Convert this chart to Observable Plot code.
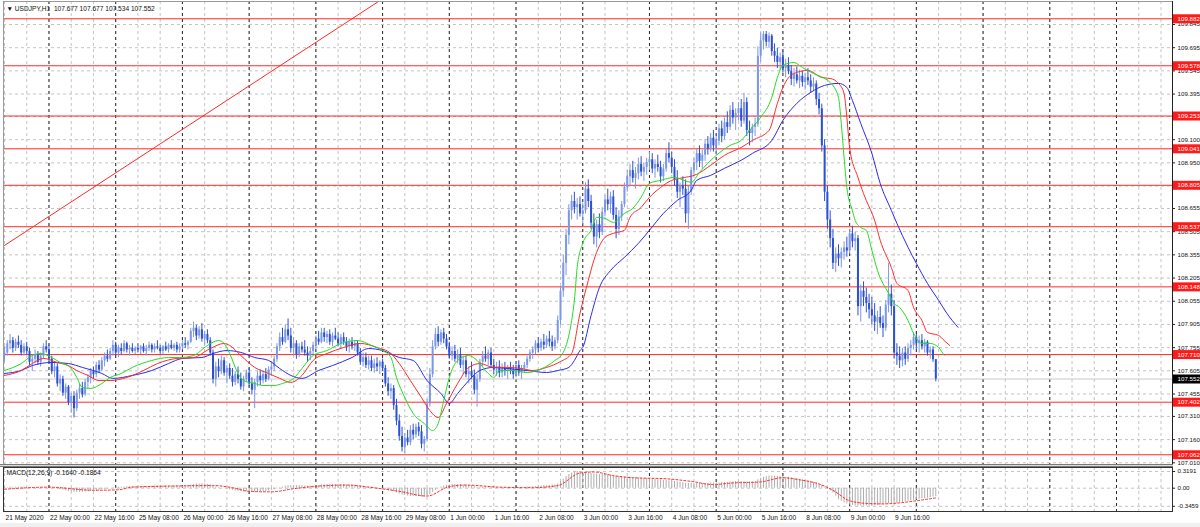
<!DOCTYPE html>
<html><head><meta charset="utf-8">
<script src="https://cdn.jsdelivr.net/npm/d3@7"></script>
<script src="https://cdn.jsdelivr.net/npm/@observablehq/plot@0.6"></script>
<style>
html,body{margin:0;padding:0;background:#fff;}
#wrap{position:relative;width:1200px;height:527px;overflow:hidden;background:#fff;}
#main{position:absolute;left:0;top:0;}
#macd{position:absolute;left:0;top:467px;}
#sep{position:absolute;left:0;top:464px;width:1173px;height:1px;border-top:1px solid #7a7a7a;border-bottom:1px solid #7a7a7a;background:#dcdcdc;}
#foot{position:absolute;left:0;top:523px;width:1200px;height:4px;background:#f0f0f0;}
</style></head>
<body><div id="wrap"><div id="foot"></div><div id="main"></div><div id="macd"></div><div id="sep"></div></div>
<script>
// ---------- data ----------
const titleText = "▼ USDJPY,H1  107.677 107.677 107.534 107.552";
const macdTitle = "MACD(12,26,9) -0.1640 -0.1864";

const timeLabels = ["21 May 2020","22 May 00:00","22 May 16:00","25 May 08:00","26 May 00:00","26 May 16:00","27 May 08:00","28 May 00:00","28 May 16:00","29 May 08:00","1 Jun 00:00","1 Jun 16:00","2 Jun 08:00","3 Jun 00:00","3 Jun 16:00","4 Jun 08:00","5 Jun 00:00","5 Jun 16:00","8 Jun 08:00","9 Jun 00:00","9 Jun 16:00"];
const timeLabelIdx = [0,16,32,48,64,80,96,112,128,144,160,176,192,208,224,240,256,272,288,304,320];
const dayIdx = [16,40,64,88,112,136,160,184,208,232,256,280,304,328,352,376,400];

const priceTicks = [107.010,107.160,107.310,107.455,107.605,107.755,107.905,108.055,108.205,108.355,108.505,108.655,108.800,108.950,109.100,109.250,109.395,109.545,109.695,109.845];
const levels = [109.882,109.578,109.253,109.041,108.805,108.537,108.148,107.710,107.402,107.062];
const bid = 107.552;

const trendIdx = [0, 140];
const trendPrice = [108.416, 110.058];

const close = [
107.72,107.78,107.80,107.75,107.79,107.77,107.72,107.76,107.73,107.66,
107.68,107.71,107.66,107.70,107.76,107.74,107.68,107.60,107.63,107.52,
107.55,107.46,107.50,107.40,107.44,107.36,107.46,107.49,107.45,107.53,
107.56,107.60,107.58,107.64,107.61,107.67,107.70,107.68,107.73,107.77,
107.72,107.75,107.73,107.78,107.74,107.75,107.73,107.75,107.74,107.76,
107.73,107.75,107.77,107.74,107.76,107.75,107.73,107.76,107.74,107.77,
107.75,107.77,107.74,107.76,107.78,107.77,107.79,107.86,107.88,107.83,
107.87,107.81,107.84,107.80,107.72,107.55,107.63,107.60,107.67,107.59,
107.62,107.57,107.53,107.58,107.55,107.50,107.55,107.59,107.52,107.48,
107.53,107.57,107.54,107.58,107.55,107.61,107.63,107.68,107.76,107.82,
107.79,107.87,107.83,107.75,107.78,107.71,107.76,107.74,107.72,107.70,
107.73,107.77,107.81,107.79,107.85,107.82,107.84,107.79,107.83,107.81,
107.78,107.82,107.79,107.76,107.79,107.76,107.78,107.72,107.66,107.69,
107.64,107.67,107.62,107.65,107.63,107.66,107.62,107.52,107.47,107.49,
107.38,107.28,107.18,107.11,107.17,107.14,107.22,107.19,107.24,107.21,
107.13,107.16,107.39,107.58,107.76,107.84,107.79,107.85,107.81,107.76,
107.70,107.73,107.68,107.71,107.64,107.67,107.58,107.60,107.57,107.48,
107.55,107.66,107.70,107.68,107.72,107.64,107.61,107.63,107.59,107.62,
107.60,107.62,107.61,107.58,107.64,107.59,107.62,107.64,107.68,107.72,
107.74,107.78,107.75,107.79,107.77,107.81,107.79,107.76,107.80,107.93,
108.12,108.30,108.48,108.64,108.70,108.66,108.68,108.62,108.64,108.78,
108.70,108.56,108.47,108.55,108.50,108.63,108.71,108.68,108.73,108.61,
108.52,108.60,108.68,108.79,108.86,108.90,108.85,108.88,108.94,108.89,
108.92,108.95,108.97,108.91,108.94,108.92,108.86,108.91,109.01,108.98,
108.92,108.84,108.76,108.80,108.78,108.62,108.76,108.90,108.95,109.01,
108.96,109.00,109.07,109.04,109.11,109.06,109.09,109.17,109.12,109.21,
109.18,109.29,109.24,109.27,109.30,109.22,109.34,109.16,109.14,109.18,
109.20,109.64,109.74,109.78,109.73,109.77,109.67,109.64,109.60,109.63,
109.56,109.58,109.54,109.49,109.52,109.48,109.51,109.47,109.50,109.48,
109.44,109.46,109.36,109.30,109.06,108.76,108.58,108.46,108.30,108.36,
108.33,108.37,108.40,108.38,108.49,108.44,108.46,108.02,108.12,108.08,
108.04,108.00,107.96,107.92,107.95,107.91,107.88,108.03,108.10,108.02,
107.72,107.70,107.67,107.72,107.68,107.75,107.77,107.82,107.78,107.80,
107.76,107.79,107.72,107.74,107.677,107.552];

const open = [
107.70,107.72,107.78,107.80,107.75,107.79,107.77,107.72,107.76,107.73,
107.66,107.68,107.71,107.66,107.70,107.76,107.74,107.68,107.60,107.63,
107.52,107.55,107.46,107.50,107.40,107.44,107.36,107.46,107.49,107.45,
107.53,107.56,107.60,107.58,107.64,107.61,107.67,107.70,107.68,107.73,
107.77,107.72,107.75,107.73,107.78,107.74,107.75,107.73,107.75,107.74,
107.76,107.73,107.75,107.77,107.74,107.76,107.75,107.73,107.76,107.74,
107.77,107.75,107.77,107.74,107.76,107.78,107.77,107.79,107.86,107.88,
107.83,107.87,107.81,107.84,107.80,107.72,107.55,107.63,107.60,107.67,
107.59,107.62,107.57,107.53,107.58,107.55,107.50,107.55,107.59,107.52,
107.48,107.53,107.57,107.54,107.58,107.55,107.61,107.63,107.68,107.76,
107.82,107.79,107.87,107.83,107.75,107.78,107.71,107.76,107.74,107.72,
107.70,107.73,107.77,107.81,107.79,107.85,107.82,107.84,107.79,107.83,
107.81,107.78,107.82,107.79,107.76,107.79,107.76,107.78,107.72,107.66,
107.69,107.64,107.67,107.62,107.65,107.63,107.66,107.62,107.52,107.47,
107.49,107.38,107.28,107.18,107.11,107.17,107.14,107.22,107.19,107.24,
107.21,107.13,107.16,107.39,107.58,107.76,107.84,107.79,107.85,107.81,
107.76,107.70,107.73,107.68,107.71,107.64,107.67,107.58,107.60,107.57,
107.48,107.55,107.66,107.70,107.68,107.72,107.64,107.61,107.63,107.59,
107.62,107.60,107.62,107.61,107.58,107.64,107.59,107.62,107.64,107.68,
107.72,107.74,107.78,107.75,107.79,107.77,107.81,107.79,107.76,107.80,
107.93,108.12,108.30,108.48,108.64,108.70,108.66,108.68,108.62,108.64,
108.78,108.70,108.56,108.47,108.55,108.50,108.63,108.71,108.68,108.73,
108.61,108.52,108.60,108.68,108.79,108.86,108.90,108.85,108.88,108.94,
108.89,108.92,108.95,108.97,108.91,108.94,108.92,108.86,108.91,109.01,
108.98,108.92,108.84,108.76,108.80,108.78,108.62,108.76,108.90,108.95,
109.01,108.96,109.00,109.07,109.04,109.11,109.06,109.09,109.17,109.12,
109.21,109.18,109.29,109.24,109.27,109.30,109.22,109.34,109.16,109.14,
109.18,109.20,109.64,109.74,109.78,109.73,109.77,109.67,109.64,109.60,
109.63,109.56,109.58,109.54,109.49,109.52,109.48,109.51,109.47,109.50,
109.48,109.44,109.46,109.36,109.30,109.06,108.76,108.58,108.46,108.30,
108.36,108.33,108.37,108.40,108.38,108.49,108.44,108.46,108.02,108.12,
108.08,108.04,108.00,107.96,107.92,107.95,107.91,107.88,108.03,108.10,
108.02,107.72,107.70,107.67,107.72,107.68,107.75,107.77,107.82,107.78,
107.80,107.76,107.79,107.72,107.74,107.677];

const high = [
107.76,107.80,107.84,107.82,107.81,107.83,107.80,107.78,107.79,107.75,
107.70,107.74,107.73,107.72,107.78,107.80,107.77,107.70,107.66,107.65,
107.58,107.57,107.52,107.51,107.46,107.47,107.48,107.52,107.53,107.55,
107.58,107.62,107.63,107.66,107.67,107.69,107.72,107.74,107.75,107.80,
107.79,107.77,107.78,107.80,107.79,107.77,107.78,107.76,107.78,107.77,
107.78,107.77,107.79,107.78,107.78,107.80,107.77,107.77,107.79,107.78,
107.80,107.78,107.79,107.78,107.80,107.82,107.80,107.88,107.92,107.90,
107.89,107.91,107.86,107.87,107.82,107.74,107.66,107.68,107.70,107.69,
107.64,107.65,107.62,107.60,107.63,107.59,107.57,107.61,107.62,107.56,
107.55,107.60,107.61,107.60,107.62,107.63,107.66,107.70,107.78,107.85,
107.88,107.90,107.94,107.88,107.82,107.80,107.78,107.79,107.80,107.76,
107.75,107.79,107.83,107.86,107.88,107.88,107.86,107.87,107.85,107.88,
107.85,107.84,107.85,107.82,107.81,107.82,107.80,107.80,107.75,107.72,
107.72,107.70,107.70,107.68,107.69,107.67,107.68,107.64,107.56,107.52,
107.51,107.42,107.32,107.24,107.20,107.22,107.25,107.26,107.26,107.27,
107.25,107.18,107.42,107.62,107.80,107.88,107.89,107.87,107.88,107.84,
107.79,107.76,107.77,107.74,107.75,107.70,107.70,107.63,107.66,107.61,
107.58,107.68,107.73,107.76,107.74,107.75,107.68,107.66,107.67,107.65,
107.66,107.64,107.66,107.64,107.66,107.67,107.64,107.66,107.70,107.74,
107.76,107.80,107.82,107.81,107.84,107.83,107.86,107.83,107.82,107.96,
108.15,108.35,108.52,108.68,108.74,108.76,108.72,108.73,108.69,108.82,
108.84,108.74,108.62,108.58,108.62,108.66,108.74,108.78,108.76,108.77,
108.66,108.64,108.70,108.82,108.90,108.94,108.96,108.92,108.98,108.99,
108.95,108.98,109.02,109.01,108.97,109.00,108.96,108.94,109.04,109.08,
109.02,108.97,108.90,108.82,108.86,108.84,108.80,108.92,108.98,109.04,
109.06,109.03,109.10,109.12,109.14,109.16,109.12,109.20,109.22,109.24,
109.28,109.32,109.34,109.30,109.34,109.36,109.40,109.37,109.22,109.20,
109.24,109.70,109.79,109.80,109.80,109.79,109.78,109.72,109.69,109.66,
109.67,109.62,109.63,109.58,109.56,109.57,109.55,109.54,109.53,109.56,
109.52,109.50,109.48,109.40,109.33,109.10,108.80,108.64,108.52,108.40,
108.42,108.40,108.44,108.47,108.52,108.54,108.50,108.48,108.16,108.18,
108.14,108.10,108.08,108.04,107.99,108.02,107.96,108.06,108.30,108.16,
108.06,107.78,107.76,107.75,107.76,107.78,107.80,107.85,107.84,107.83,
107.84,107.81,107.80,107.76,107.76,107.677];

const low = [
107.66,107.70,107.74,107.72,107.73,107.75,107.70,107.70,107.71,107.64,
107.60,107.65,107.64,107.63,107.68,107.72,107.66,107.58,107.56,107.50,
107.47,107.44,107.42,107.38,107.33,107.30,107.34,107.42,107.43,107.44,
107.49,107.52,107.55,107.56,107.59,107.60,107.63,107.66,107.67,107.70,
107.70,107.69,107.71,107.72,107.72,107.70,107.72,107.71,107.72,107.71,
107.72,107.70,107.73,107.72,107.72,107.74,107.71,107.71,107.73,107.72,
107.74,107.73,107.72,107.72,107.74,107.75,107.74,107.78,107.82,107.80,
107.81,107.79,107.77,107.78,107.70,107.52,107.50,107.56,107.58,107.57,
107.52,107.55,107.50,107.51,107.52,107.48,107.47,107.53,107.50,107.45,
107.36,107.50,107.51,107.52,107.53,107.54,107.57,107.60,107.66,107.73,
107.77,107.78,107.80,107.72,107.70,107.68,107.69,107.72,107.70,107.66,
107.67,107.71,107.74,107.77,107.78,107.79,107.78,107.77,107.76,107.80,
107.76,107.75,107.77,107.73,107.72,107.74,107.73,107.70,107.64,107.63,
107.62,107.61,107.60,107.59,107.60,107.58,107.60,107.50,107.44,107.42,
107.35,107.25,107.15,107.08,107.07,107.12,107.12,107.16,107.17,107.18,
107.10,107.08,107.15,107.37,107.56,107.74,107.76,107.77,107.78,107.74,
107.68,107.67,107.66,107.65,107.62,107.58,107.56,107.52,107.55,107.45,
107.37,107.53,107.63,107.66,107.64,107.62,107.58,107.57,107.56,107.56,
107.57,107.55,107.58,107.55,107.56,107.57,107.55,107.59,107.62,107.66,
107.68,107.71,107.72,107.73,107.74,107.75,107.76,107.73,107.74,107.78,
107.90,108.08,108.22,108.42,108.58,108.62,108.58,108.60,108.55,108.62,
108.66,108.52,108.42,108.40,108.46,108.48,108.60,108.64,108.62,108.58,
108.46,108.48,108.57,108.66,108.76,108.80,108.82,108.78,108.84,108.86,
108.83,108.87,108.90,108.88,108.85,108.89,108.82,108.83,108.89,108.95,
108.88,108.80,108.72,108.66,108.74,108.56,108.52,108.74,108.86,108.90,
108.92,108.91,108.96,109.00,109.02,109.02,109.00,109.06,109.08,109.10,
109.14,109.16,109.20,109.16,109.22,109.18,109.20,109.12,109.06,109.08,
109.12,109.18,109.60,109.68,109.70,109.69,109.64,109.60,109.56,109.55,
109.53,109.50,109.52,109.45,109.44,109.46,109.43,109.44,109.42,109.45,
109.40,109.41,109.32,109.26,109.02,108.70,108.52,108.40,108.26,108.24,
108.28,108.27,108.32,108.34,108.36,108.40,108.38,107.96,107.92,108.02,
107.98,107.94,107.90,107.86,107.84,107.88,107.82,107.86,107.98,107.96,
107.68,107.64,107.62,107.63,107.64,107.66,107.70,107.74,107.74,107.72,
107.74,107.72,107.70,107.68,107.66,107.534];

// Alligator lines (bar index, price)
const lipsIdx = [0,6,10,13,17,20,24,26,28,31,35,38,42,46,53,59,63,68,73,77,79,81,84,86,90,93,97,100,104,107,111,116,121,127,132,136,139,141,144,147,151,154,156,158,160,163,167,170,174,176,178,183,188,193,198,201,204,205,206,208,211,213,216,219,223,226,229,232,236,241,247,250,256,261,265,268,272,276,278,280,284,287,291,295,297,300,301,302,303,305,306,308,310,312,314,318,320,322,325,327,330,333,336,338];
const lipsPrice = [107.607,107.652,107.704,107.717,107.691,107.659,107.620,107.562,107.497,107.491,107.523,107.562,107.588,107.627,107.672,107.691,107.691,107.704,107.769,107.801,107.782,107.717,107.588,107.542,107.523,107.510,107.510,107.523,107.556,107.620,107.704,107.736,107.782,107.801,107.769,107.736,107.691,107.562,107.432,107.329,107.264,107.219,107.264,107.413,107.562,107.672,107.704,107.672,107.588,107.562,107.607,107.607,107.594,107.617,107.672,107.724,107.930,108.061,108.274,108.430,108.514,108.598,108.591,108.565,108.623,108.656,108.727,108.818,108.837,108.856,108.824,108.889,108.998,109.063,109.095,109.160,109.244,109.373,109.502,109.580,109.599,109.567,109.528,109.496,109.470,109.373,109.205,108.985,108.791,108.642,108.578,108.532,108.513,108.384,108.255,108.106,108.041,108.015,107.931,107.847,107.782,107.782,107.756,107.704];

const teethIdx = [0,6,10,14,19,23,26,30,34,38,44,50,55,62,68,74,79,81,85,90,95,99,103,107,111,116,122,128,134,139,142,146,150,153,156,159,163,167,171,176,181,186,190,195,200,204,207,210,212,216,219,223,225,229,232,236,240,243,249,254,259,265,269,275,278,280,284,289,294,297,300,302,303,304,307,309,310,313,315,319,321,325,327,330,332,336,338,340];
const teethPrice = [107.575,107.607,107.652,107.685,107.659,107.639,107.607,107.575,107.542,107.542,107.562,107.607,107.652,107.685,107.691,107.749,107.782,107.769,107.704,107.627,107.588,107.556,107.530,107.575,107.672,107.717,107.756,107.782,107.756,107.717,107.652,107.542,107.432,107.348,107.303,107.394,107.523,107.627,107.652,107.627,107.627,107.620,107.607,107.627,107.665,107.717,107.976,108.190,108.320,108.468,108.494,108.514,108.598,108.662,108.727,108.791,108.837,108.850,108.876,108.934,108.999,109.050,109.095,109.160,109.334,109.438,109.528,109.548,109.502,109.496,109.464,109.399,109.244,109.050,108.856,108.752,108.707,108.578,108.449,108.274,108.171,108.125,108.015,107.931,107.853,107.834,107.801,107.769];

const jawIdx = [0,6,10,17,23,28,35,39,46,53,59,64,71,75,80,85,90,95,99,103,107,113,118,125,131,136,142,147,152,157,160,163,167,171,176,181,188,195,199,203,205,207,208,211,214,218,223,228,232,237,242,247,249,254,259,265,269,276,280,285,290,295,300,303,305,308,312,315,319,321,325,328,332,336,339,343];
const jawPrice = [107.588,107.607,107.639,107.659,107.652,107.627,107.588,107.556,107.575,107.607,107.652,107.685,107.691,107.717,107.736,107.724,107.691,107.672,107.620,107.575,107.556,107.607,107.639,107.691,107.749,107.736,107.691,107.672,107.542,107.458,107.394,107.458,107.542,107.607,107.627,107.620,107.607,107.594,107.607,107.627,107.672,107.736,107.756,107.963,108.144,108.254,108.339,108.429,108.514,108.623,108.707,108.772,108.837,108.869,108.915,108.967,109.011,109.095,109.225,109.335,109.406,109.451,109.464,109.438,109.354,109.205,109.011,108.817,108.643,108.559,108.404,108.300,108.170,108.061,107.976,107.886];

// MACD main values, one per bar
const macd = [
0.01,0.01,0.02,0.02,0.02,0.02,0.02,0.02,0.01,0.01,0.00,0.00,-0.01,-0.01,0.00,0.00,
0.00,-0.01,-0.01,-0.02,-0.03,-0.04,-0.05,-0.06,-0.07,-0.08,-0.08,-0.08,-0.08,-0.07,-0.07,-0.06,
-0.05,-0.05,-0.04,-0.03,-0.02,-0.01,0.00,0.01,0.01,0.02,0.02,0.02,0.03,0.03,0.03,0.03,
0.02,0.03,0.03,0.03,0.03,0.04,0.04,0.04,0.04,0.04,0.04,0.04,0.04,0.04,0.04,0.04,
0.04,0.05,0.05,0.06,0.07,0.08,0.08,0.08,0.08,0.07,0.06,0.04,0.02,0.01,0.00,-0.01,
-0.02,-0.03,-0.04,-0.05,-0.06,-0.06,-0.07,-0.07,-0.08,-0.08,-0.08,-0.08,-0.07,-0.07,-0.06,-0.05,
-0.04,-0.03,-0.01,0.01,0.02,0.04,0.05,0.05,0.05,0.05,0.05,0.05,0.04,0.04,0.04,0.04,
0.05,0.05,0.06,0.06,0.07,0.07,0.07,0.07,0.07,0.07,0.07,0.06,0.06,0.06,0.06,0.05,
0.04,0.04,0.03,0.02,0.02,0.01,0.00,0.00,-0.01,-0.02,-0.04,-0.05,-0.07,-0.09,-0.11,-0.13,
-0.14,-0.15,-0.16,-0.16,-0.16,-0.16,-0.17,-0.17,-0.15,-0.12,-0.08,-0.04,-0.01,0.02,0.04,0.05,
0.06,0.07,0.07,0.07,0.07,0.06,0.06,0.05,0.04,0.03,0.02,0.02,0.02,0.02,0.02,0.02,
0.02,0.01,0.01,0.01,0.01,0.01,0.01,0.01,0.01,0.01,0.01,0.01,0.02,0.02,0.03,0.03,
0.04,0.04,0.05,0.05,0.05,0.06,0.06,0.08,0.12,0.17,0.22,0.26,0.29,0.31,0.3191,0.31,
0.31,0.30,0.29,0.28,0.27,0.27,0.26,0.26,0.26,0.26,0.25,0.24,0.23,0.22,0.22,0.21,
0.21,0.21,0.20,0.20,0.19,0.19,0.18,0.18,0.18,0.17,0.17,0.16,0.16,0.15,0.15,0.14,
0.14,0.13,0.12,0.11,0.10,0.09,0.09,0.09,0.09,0.09,0.09,0.09,0.09,0.09,0.10,0.10,
0.10,0.10,0.11,0.11,0.11,0.12,0.12,0.13,0.13,0.13,0.13,0.12,0.12,0.12,0.13,0.16,
0.19,0.21,0.22,0.23,0.23,0.23,0.23,0.22,0.22,0.21,0.21,0.20,0.19,0.18,0.17,0.16,
0.15,0.14,0.13,0.11,0.10,0.08,0.05,0.01,-0.02,-0.05,-0.09,-0.15,-0.22,-0.25,-0.28,-0.30,
-0.32,-0.33,-0.34,-0.3459,-0.34,-0.34,-0.34,-0.34,-0.34,-0.33,-0.33,-0.32,-0.32,-0.31,-0.30,-0.30,
-0.30,-0.29,-0.28,-0.27,-0.26,-0.25,-0.24,-0.23,-0.22,-0.21,-0.20,-0.20,-0.19,-0.18,-0.17,-0.164];

const signalIdx = [0,16,32,41,46,59,75,82,88,96,104,113,123,131,142,152,160,166,178,190,199,207,212,219,226,238,247,255,262,272,280,286,293,298,304,310,316,322,328,335];
const signalVal = [-0.02,0.02,-0.04,-0.03,0.02,0.04,0.05,0.01,-0.06,-0.07,-0.01,0.04,0.06,0.02,-0.06,-0.15,0.03,0.06,0.02,0.01,0.05,0.29,0.31,0.24,0.20,0.18,0.13,0.07,0.10,0.12,0.20,0.16,0.08,-0.04,-0.24,-0.29,-0.30,-0.28,-0.24,-0.186];

const macdTicks = [0.3191, 0, -0.3459];
const macdTickLabels = ["0.3191", "0.00", "-0.3459"];

// ---------- drawing ----------
const X_MAX = 420.14;
const FONT = "Liberation Sans, Arial, sans-serif";
const gridIdx = d3.range(0, X_MAX, 8);
const candles = close.map((c, i) => ({i, o: open[i], h: high[i], l: low[i], c}));
const isBull = d => d.c >= d.o;
const isBear = d => d.c < d.o;
const pts = (I, P) => I.map((x, k) => ({x, y: P[k]}));
const BULL = "#7d97e8", BEAR = "#2c50d2";
const AX = 6.2;

const mainPlot = Plot.plot({
  width: 1200, height: 464,
  marginLeft: 3, marginRight: 28, marginTop: 1, marginBottom: 0,
  x: {domain: [0, X_MAX], range: [4, 1172], axis: null},
  y: {domain: [107.010, 109.845], range: [462.3, 24], axis: null},
  style: {background: "#fff", overflow: "visible", fontFamily: FONT},
  marks: [
    Plot.ruleY(priceTicks, {y: d => d, stroke: "#c4c4c4", strokeDasharray: "3,3"}),
    Plot.ruleX(gridIdx, {x: d => d, stroke: "#c4c4c4", strokeDasharray: "3,3"}),
    Plot.ruleX(dayIdx, {x: d => d, stroke: "#2a2a2a", strokeDasharray: "3,3"}),
    Plot.ruleY([bid], {y: d => d, stroke: "#c8c8c8"}),
    Plot.ruleY(levels, {y: d => d, stroke: "#ff2a2a"}),
    Plot.line(pts(trendIdx, trendPrice), {x: "x", y: "y", stroke: "#ff2a2a", strokeWidth: 1, clip: true}),
    Plot.ruleX(candles, {filter: isBull, x: "i", y1: "l", y2: "h", stroke: BULL, strokeWidth: 1}),
    Plot.ruleX(candles, {filter: isBear, x: "i", y1: "l", y2: "h", stroke: BEAR, strokeWidth: 1}),
    Plot.ruleX(candles, {filter: isBull, x: "i", y1: "o", y2: "c", stroke: BULL, strokeWidth: 2}),
    Plot.ruleX(candles, {filter: isBear, x: "i", y1: "o", y2: "c", stroke: BEAR, strokeWidth: 2}),
    Plot.line(pts(jawIdx, jawPrice), {x: "x", y: "y", stroke: "#2a2aee", strokeWidth: 1, curve: "monotone-x"}),
    Plot.line(pts(teethIdx, teethPrice), {x: "x", y: "y", stroke: "#ff2a2a", strokeWidth: 1, curve: "monotone-x"}),
    Plot.line(pts(lipsIdx, lipsPrice), {x: "x", y: "y", stroke: "#22dd22", strokeWidth: 1, curve: "monotone-x"}),
    Plot.frame({stroke: "#9a9a9a"}),
    Plot.ruleX([X_MAX], {x: d => d, stroke: "#222"}),
    Plot.ruleY(priceTicks, {y: d => d, x1: () => X_MAX, x2: () => X_MAX + 1.1, stroke: "#222"}),
    Plot.text(priceTicks, {y: d => d, text: d => d.toFixed(3), frameAnchor: "right", dx: 5, textAnchor: "start", fontSize: AX, fill: "#111"}),
    Plot.ruleY(levels, {y: d => d, x1: () => X_MAX + 0.35, x2: () => X_MAX + 10.2, stroke: "#ff1a1a", strokeWidth: 9}),
    Plot.text(levels, {y: d => d, text: d => d.toFixed(3), frameAnchor: "right", dx: 5, textAnchor: "start", fontSize: AX, fill: "#fff"}),
    Plot.ruleY([bid], {y: d => d, x1: () => X_MAX + 0.35, x2: () => X_MAX + 10.2, stroke: "#000", strokeWidth: 9}),
    Plot.text([bid], {y: d => d, text: d => d.toFixed(3), frameAnchor: "right", dx: 5, textAnchor: "start", fontSize: AX, fill: "#fff"}),
    Plot.text([titleText], {text: d => d, frameAnchor: "top-left", dx: 3, dy: 7, textAnchor: "start", lineAnchor: "middle", fontSize: 6.6, fill: "#111"})
  ]
});
document.getElementById("main").appendChild(mainPlot);

const macdPlot = Plot.plot({
  width: 1200, height: 60,
  marginLeft: 3, marginRight: 28, marginTop: 0, marginBottom: 16,
  x: {domain: [0, X_MAX], range: [4, 1172], axis: null},
  y: {domain: [-0.3459, 0.3191], range: [38.8, 4], axis: null},
  style: {background: "transparent", overflow: "visible", fontFamily: FONT},
  marks: [
    Plot.ruleY(macdTicks, {y: d => d, stroke: "#c4c4c4", strokeDasharray: "3,3"}),
    Plot.ruleX(gridIdx, {x: d => d, stroke: "#c4c4c4", strokeDasharray: "3,3"}),
    Plot.ruleX(dayIdx, {x: d => d, stroke: "#2a2a2a", strokeDasharray: "3,3"}),
    Plot.ruleX(macd, {x: (d, k) => k, y1: () => 0, y2: d => d, stroke: "#adadad", strokeWidth: 1}),
    Plot.line(pts(signalIdx, signalVal), {x: "x", y: "y", stroke: "#ff2a2a", strokeWidth: 1, strokeDasharray: "2,2", curve: "monotone-x"}),
    Plot.frame({stroke: "#333"}),
    Plot.ruleY(macdTicks, {y: d => d, x1: () => X_MAX, x2: () => X_MAX + 1.1, stroke: "#222"}),
    Plot.text(macdTicks, {y: d => d, text: (d, k) => macdTickLabels[k], frameAnchor: "right", dx: 5, textAnchor: "start", fontSize: AX, fill: "#111"}),
    Plot.text([macdTitle], {text: d => d, frameAnchor: "top-left", dx: 3, dy: 5, textAnchor: "start", lineAnchor: "middle", fontSize: 6.6, fill: "#111"}),
    Plot.text(timeLabelIdx, {x: d => d, text: (d, k) => timeLabels[k], frameAnchor: "bottom", dx: 1, dy: 6, textAnchor: "start", lineAnchor: "middle", fontSize: 6.6, fill: "#111"})
  ]
});
document.getElementById("macd").appendChild(macdPlot);
</script>
</body></html>
